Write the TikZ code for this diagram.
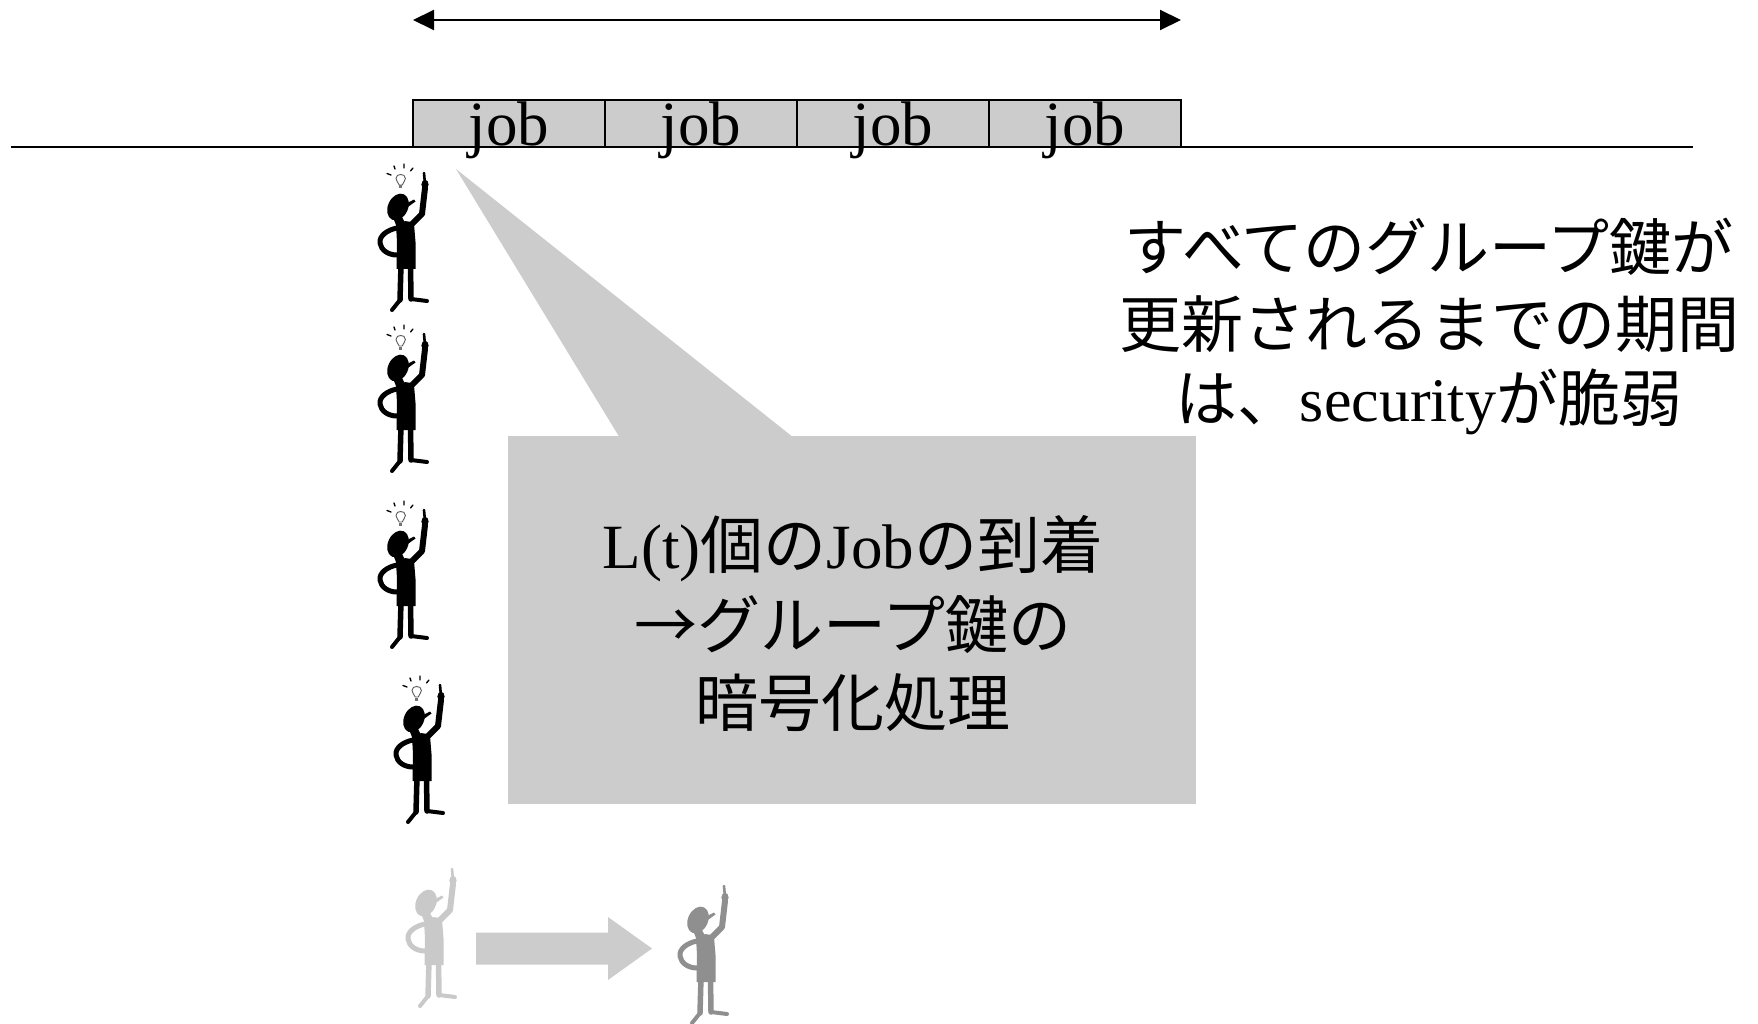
\documentclass[tikz,border=0pt]{standalone}
\usepackage{fontspec}
\setmainfont{Liberation Serif}
\newfontfamily\jp{Noto Sans CJK JP}
\usetikzlibrary{arrows.meta,calc}

\definecolor{boxgray}{gray}{0.80}
\definecolor{fadegray}{gray}{0.79}
\definecolor{midgray}{gray}{0.56}

\tikzset{
  % little man pointing upwards, drawn in pixel units (y grows downwards)
  pics/person/.style={code={
    % head and cap brim
    \fill[#1, rotate around={-25:(28,47)}] (28,47) ellipse [x radius=10, y radius=14];
    \fill[#1] (33,45) -- (44,39.5) -- (45.5,41.5) -- (35,49) -- cycle;
    % neck and torso
    \fill[#1] (22,55) -- (31,55) -- (36,65) -- (26,65) -- cycle;
    \fill[#1] (26,65) .. controls (31,60) and (40,60) .. (44,64)
              -- (45.5,82) -- (45.5,109) -- (26.5,109) -- (27,82) -- cycle;
    % raised arm, fist and finger
    \draw[#1, line width=6pt, line cap=round, line join=round]
      (40,66) -- (52,54) -- (55,28);
    \fill[#1] (55,24.5) ellipse [x radius=3.6, y radius=4.8];
    \draw[#1, line width=2.6pt, line cap=round] (55,24) -- (54,13);
    % other arm, hand resting on the hip
    \draw[#1, line width=5pt, line cap=round, line join=round]
      (27,68) .. controls (17,70) and (9,76) .. (10,83)
              .. controls (11,90) and (18,95) .. (27,95);
    % legs and feet
    \draw[#1, line width=5.5pt, line cap=round] (31,105) -- (30,140);
    \draw[#1, line width=4pt, line cap=round] (30,140) -- (22,150);
    \draw[#1, line width=5.5pt, line cap=round] (40.5,105) -- (41,139);
    \draw[#1, line width=4pt, line cap=round] (41,139) -- (57,141);
  }},
  % light bulb with rays above the head
  pics/bulb/.style={code={
    \draw[line width=0.9pt, draw=black!65, fill=white]
      (29.2,25) .. controls (28,22) and (26,20.5) .. (26,18.5)
      .. controls (26,15.5) and (28.3,14.5) .. (30.7,14.5)
      .. controls (33.1,14.5) and (35.4,15.5) .. (35.4,18.5)
      .. controls (35.4,20.5) and (33.4,22) .. (32.2,25) -- cycle;
    \fill[black!55] (29.2,25.5) rectangle (32.2,28.5);
    \draw[line width=1.3pt, line cap=round]
      (24,6) -- (25,9)  (34,4) -- (34,8)  (43,8) -- (40.5,11)  (17,13.5) -- (21,15);
  }},
  jobbox/.style={draw=black, line width=1.5pt, fill=boxgray,
    minimum width=192pt, minimum height=47pt, inner sep=0pt, outer sep=0pt,
    text height=45pt, text depth=0pt, anchor=south west,
    font=\fontsize{63pt}{63pt}\selectfont},
  bigtext/.style={anchor=base, inner sep=0pt,
    font=\fontsize{63pt}{75pt}\selectfont},
  remarktext/.style={bigtext, font=\fontsize{62pt}{75pt}\selectfont},
  spanarrow/.style={line width=2pt,
    {Triangle[length=21pt,width=20pt]}-{Triangle[length=21pt,width=20pt]}},
}

\begin{document}
\begin{tikzpicture}[x=1pt,y=-1pt]
\useasboundingbox (0,0) rectangle (1758,1024);

% time axis
\coordinate (tlL) at (11,147);
\coordinate (tlR) at (1693,147);
\draw[line width=1.6pt] (tlL) -- (tlR);

% period arrow over the jobs
\coordinate (spanL) at (413,20);
\coordinate (spanR) at (1181,20);
\draw[spanarrow] (spanL) -- (spanR);

% the four jobs
\node[jobbox] (job1) at (413,147) {job};
\node[jobbox] (job2) at (job1.south east) {job};
\node[jobbox] (job3) at (job2.south east) {job};
\node[jobbox] (job4) at (job3.south east) {job};

% callout
\node[fill=boxgray, inner sep=0pt, minimum width=688pt, minimum height=368pt]
  (callout) at (852,620) {};
\coordinate (ptip) at (456,169);
\fill[boxgray] (ptip) -- ($(callout.north west)+(112,2)$)
  -- ($(callout.north west)+(286,2)$) -- cycle;
\node[bigtext] (ct1) at (853,568) {L(t){\jp 個の}Job{\jp の到着}};
\node[bigtext] (ct2) at (853,648) {\jp →グループ鍵の};
\node[bigtext] (ct3) at (853,726) {\jp 暗号化処理};

% remark on the right
\node[remarktext] (rt1) at (1429,271) {\jp すべてのグループ鍵が};
\node[remarktext] (rt2) at (1429,347) {\jp 更新されるまでの期間};
\node[remarktext] (rt3) at (1429,421) {{\jp は、}security{\jp が脆弱}};

% members
\pic (m1) at (370,160) {person=black};
\pic (b1) at (370,160) {bulb};
\pic (m2) at (370,321) {person=black};
\pic (b2) at (370,321) {bulb};
\pic (m3) at (370,497) {person=black};
\pic (b3) at (370,497) {bulb};
\pic (m4) at (386,672) {person=black};
\pic (b4) at (386,672) {bulb};

% member replaced
\pic (m5) at (398,856) {person=fadegray};
\pic (m6) at (670,873) {person=midgray};
\coordinate (arS) at (476,948.5);
\coordinate (arE) at (652,948.5);
\fill[boxgray] ($(arS)+(0,-16)$) -- ($(arE)+(-44,-16)$) -- ($(arE)+(-44,-31.5)$)
  -- (arE) -- ($(arE)+(-44,31.5)$) -- ($(arE)+(-44,16)$) -- ($(arS)+(0,16)$) -- cycle;
\end{tikzpicture}
\end{document}
